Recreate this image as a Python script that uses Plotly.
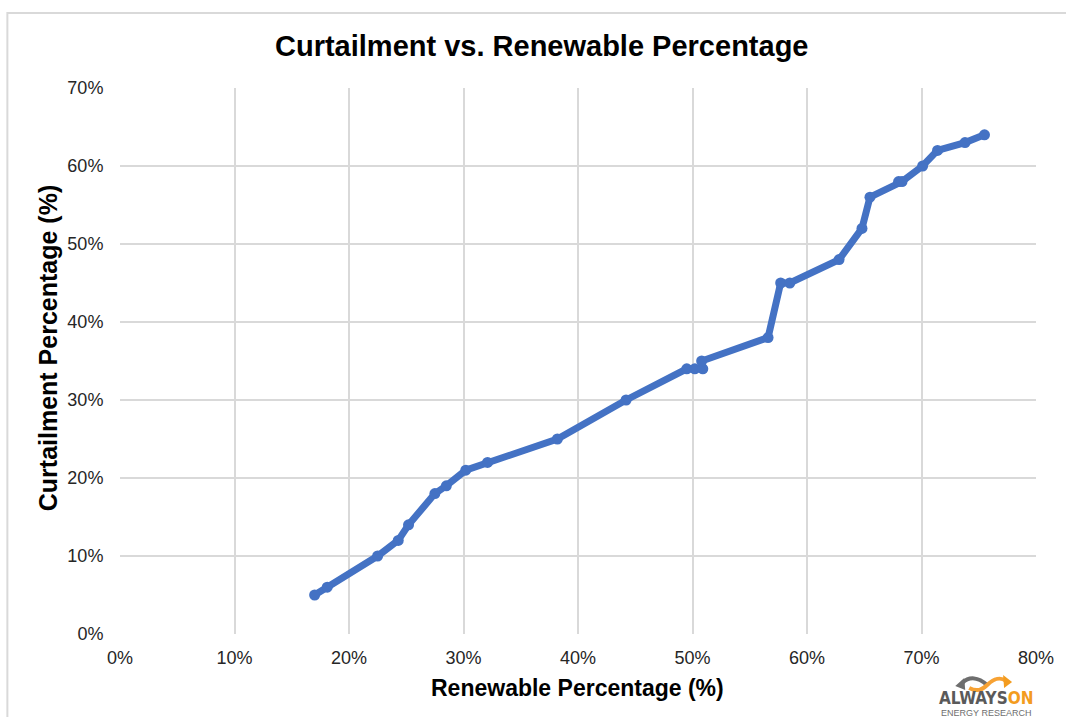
import plotly.graph_objects as go

# Renewable share of generation (%) and the matching curtailment (%)
renewable_pct = [17.0, 18.1, 22.5, 24.3, 25.2, 27.5, 28.5, 30.2, 32.1, 38.2, 44.2,
                 49.5, 50.2, 50.9, 50.8, 56.6, 57.7, 58.5, 62.8, 64.8, 65.5,
                 68.0, 68.3, 70.1, 71.4, 73.8, 75.5]
curtailment_pct = [5, 6, 10, 12, 14, 18, 19, 21, 22, 25, 30,
                   34, 34, 34, 35, 38, 45, 45, 48, 52, 56,
                   58, 58, 60, 62, 63, 64]

x_ticks = [0, 10, 20, 30, 40, 50, 60, 70, 80]
y_ticks = [0, 10, 20, 30, 40, 50, 60, 70]

W, H = 1066, 717
L, R, T, B = 120, 1039, 88, 634


def px(x, y):
    """Convert page pixels into paper coordinates."""
    return (x - L) / (R - L), (B - y) / (B - T)


fig = go.Figure()
fig.add_trace(go.Scatter(
    x=renewable_pct, y=curtailment_pct,
    mode="lines+markers",
    line=dict(color="#4472C4", width=7),
    marker=dict(color="#4472C4", size=11),
    hoverinfo="x+y",
    showlegend=False,
))

grid = "#D9D9D9"
tick_font = dict(family="Liberation Sans, Arial, sans-serif", size=18, color="#262626")

fig.update_xaxes(
    range=[0, 80], tickvals=x_ticks, ticktext=[f"{v}%" for v in x_ticks],
    showgrid=True, gridcolor=grid, gridwidth=1.5,
    zeroline=False, showline=False,
    ticks="outside", ticklen=7, tickcolor="rgba(0,0,0,0)",
    tickfont=tick_font, fixedrange=True,
)
fig.update_yaxes(
    range=[0, 70], tickvals=y_ticks, ticktext=[f"{v}%" for v in y_ticks],
    showgrid=True, gridcolor=grid, gridwidth=1.5,
    zeroline=False, showline=False,
    ticks="outside", ticklen=12, tickcolor="rgba(0,0,0,0)",
    tickfont=tick_font, fixedrange=True,
)

shapes = []
# outer chart frame
x0, y0 = px(7, 13)
x1, y1 = px(1075, 725)
shapes.append(dict(type="rect", xref="paper", yref="paper", x0=x0, y0=y1, x1=x1, y1=y0,
                   line=dict(color="#D9D9D9", width=2), fillcolor="rgba(0,0,0,0)", layer="below"))


def path(points_cmd, dy=-4):
    out = []
    for tok in points_cmd:
        if isinstance(tok, str):
            out.append(tok)
        else:
            a, b = px(tok[0], tok[1] + dy)
            out.append(f"{a:.5f},{b:.5f}")
    return " ".join(out)


# logo emblem: grey loop with arrow to the left, orange loop with arrow to the right
gray_loop = path(["M", (990, 689), "C", (981, 681), (972, 680), (965, 687)])
orange_loop = path(["M", (972, 692), "C", (980, 696), (985, 694), (990, 689),
                    "C", (997, 682), (1004, 681), (1009, 685)])
shapes.append(dict(type="path", xref="paper", yref="paper", path=gray_loop,
                   line=dict(color="#6E6E6E", width=4)))
shapes.append(dict(type="path", xref="paper", yref="paper", path=orange_loop,
                   line=dict(color="#F7A234", width=4)))
shapes.append(dict(type="path", xref="paper", yref="paper",
                   path=path(["M", (958, 690), "L", (967, 682), "L", (968, 694), "Z"]),
                   fillcolor="#6E6E6E", line=dict(width=0)))
shapes.append(dict(type="path", xref="paper", yref="paper",
                   path=path(["M", (1015, 686), "L", (1006, 679), "L", (1007, 692), "Z"]),
                   fillcolor="#F39C1F", line=dict(width=0)))

annotations = []


def text_at(x, y, text, size, bold=False, color="#000000", angle=0,
            family="Liberation Sans, Arial, sans-serif", pad=1):
    ax, ay = px(x, y)
    annotations.append(dict(
        xref="paper", yref="paper", x=ax, y=ay, xanchor="center", yanchor="middle",
        text=f"<b>{text}</b>" if bold else text, showarrow=False, textangle=angle,
        font=dict(family=family, size=size, color=color), borderpad=pad,
    ))


text_at(543, 46, "Curtailment vs. Renewable Percentage", 29, bold=True)
text_at(579, 688, "Renewable Percentage (%)", 23, bold=True)
text_at(48, 348, "Curtailment Percentage (%)", 25, bold=True, angle=-90)

# AlwaysOn wordmark with its tagline underneath, set as one text block
narrow = "font-family:'Liberation Sans Narrow','DejaVu Sans Condensed',sans-serif;font-size:17px"
wordmark = (
    f'<b><span style="{narrow};color:#5A5A5A">ALWAYS</span>'
    f'<span style="{narrow};color:#F39C1F">ON</span></b>'
    '<br>ENERGY RESEARCH'
)
text_at(989, 702.5, wordmark, 9, color="#6E6E6E", pad=0)

fig.update_layout(
    width=W, height=H,
    margin=dict(l=L, r=W - R, t=T, b=H - B),
    plot_bgcolor="white", paper_bgcolor="white",
    shapes=shapes, annotations=annotations,
)

fig.write_html("out.html")
